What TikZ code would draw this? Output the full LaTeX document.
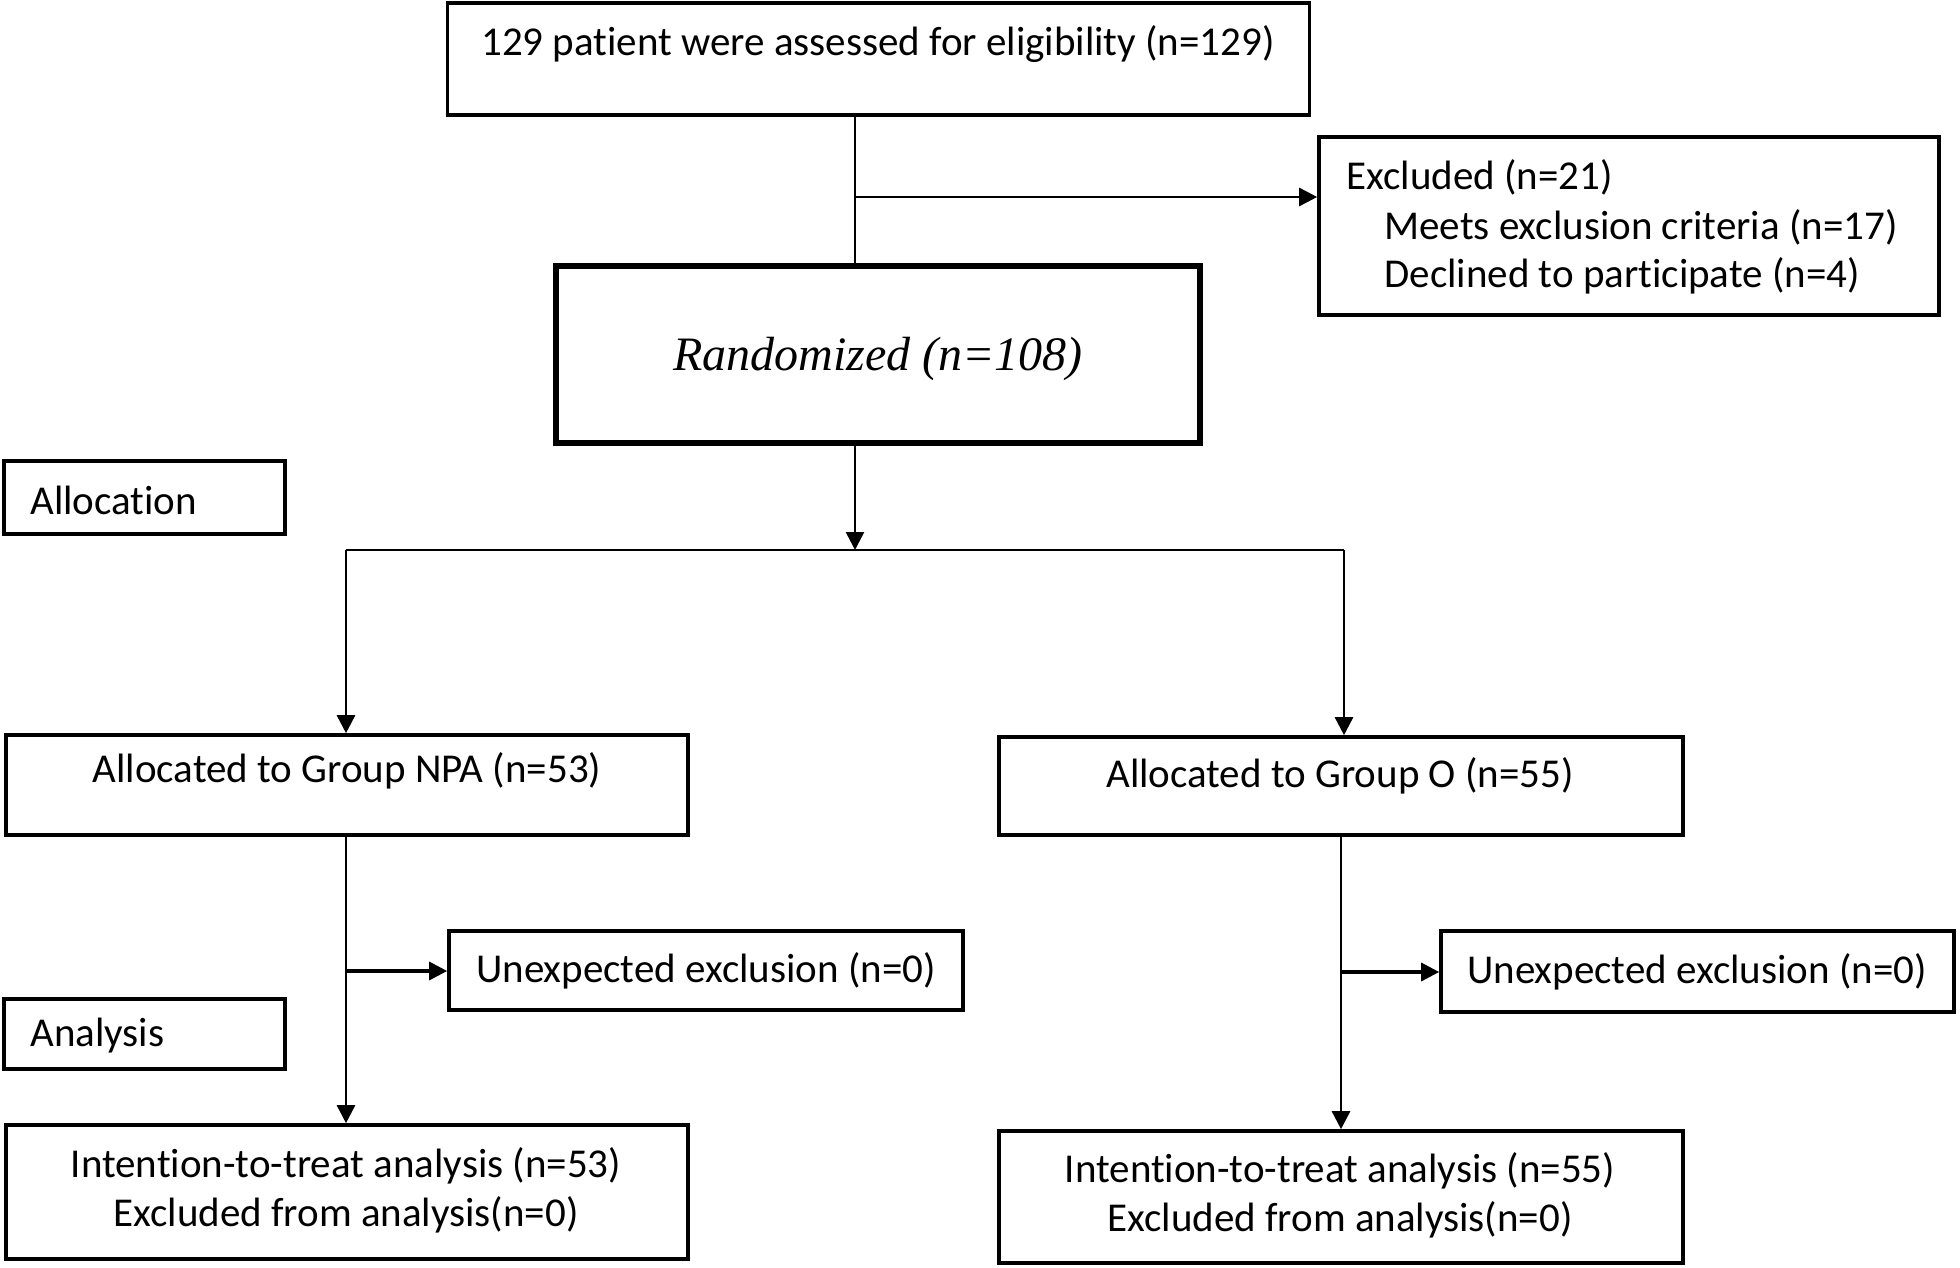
\documentclass[tikz,border=0pt]{standalone}
\usepackage{fontspec}
\setmainfont{Carlito}[Ligatures=NoCommon]
\newfontfamily\randfont{Liberation Serif}
\usetikzlibrary{arrows.meta}
\tikzset{
  box/.style={draw=black, line width=1.8pt, rectangle, inner sep=0pt},
  thickbox/.style={box, line width=2.8pt},
  txt/.style={inner sep=0pt, font=\fontsize{20.5}{22}\selectfont},
  conn/.style={line width=1.3pt, draw=black},
  arr/.style={conn, -{Triangle[length=9pt,width=9pt]}}
}
\begin{document}
\begin{tikzpicture}[x=0.5pt,y=-0.5pt]
\useasboundingbox (0,0) rectangle (1960,1268);
% boxes
\node[box, minimum width=431pt, minimum height=56pt] (top) at (878.5,59) {};
\node[txt] (toptxt) at (878,44) {129 patient were assessed for eligibility (n=129)};
\node[box, minimum width=310pt, minimum height=89pt] (excl) at (1629,226) {};
\node[txt, anchor=west] (ex1) at (1346,177) {Excluded (n=21)};
\node[txt, anchor=west] (ex2) at (1384,227) {Meets exclusion criteria (n=17)};
\node[txt, anchor=west] (ex3) at (1384,276) {Declined to participate (n=4)};
\node[thickbox, minimum width=322pt, minimum height=88.5pt] (rand) at (878,354.5) {};
\node[inner sep=0pt, font=\randfont\itshape\fontsize{24}{26}\selectfont] (randtxt) at (878,359) {Randomized (n=108)};
\node[box, minimum width=140.5pt, minimum height=36.5pt] (alloc) at (144.5,497.5) {};
\node[txt, anchor=west] (alloctxt) at (30,500) {Allocation};
\node[box, minimum width=341pt, minimum height=50pt] (npa) at (347,785) {};
\node[txt] (npatxt) at (347,771) {Allocated to Group NPA (n=53)};
\node[box, minimum width=342pt, minimum height=49pt] (grpo) at (1341,786) {};
\node[txt] (grpotxt) at (1340,776) {Allocated to Group O (n=55)};
\node[box, minimum width=257pt, minimum height=39.5pt] (une1) at (706,970.5) {};
\node[txt] (une1txt) at (706,971) {Unexpected exclusion (n=0)};
\node[box, minimum width=256.5pt, minimum height=40.5pt] (une2) at (1697.5,971.5) {};
\node[txt] (une2txt) at (1697,972) {Unexpected exclusion (n=0)};
\node[box, minimum width=140.5pt, minimum height=35pt] (anal) at (144.5,1034) {};
\node[txt, anchor=west] (analtxt) at (30,1036) {Analysis};
\node[box, minimum width=341pt, minimum height=67pt] (itt1) at (347,1192) {};
\node[txt, align=center] (itt1txt) at (346,1190.5) {Intention-to-treat analysis (n=53)\\[2.5pt]Excluded from analysis(n=0)};
\node[box, minimum width=342pt, minimum height=66pt] (itt2) at (1341,1197) {};
\node[txt, align=center] (itt2txt) at (1340,1195.5) {Intention-to-treat analysis (n=55)\\[2.5pt]Excluded from analysis(n=0)};
% coordinates
\coordinate (j1) at (855,197);
\coordinate (hmid) at (855,550);
\coordinate (hl) at (346,550);
\coordinate (hr) at (1344,550);
\coordinate (j2) at (346,971);
\coordinate (j3) at (1341,972);
% connectors
\draw[conn] (top.south -| j1) -- (rand.north -| j1);
\draw[arr] (j1) -- (excl.west |- j1);
\draw[arr] (rand.south -| hmid) -- (hmid);
\draw[conn] (hl) -- (hr);
\draw[arr] (hl) -- (npa.north -| hl);
\draw[arr] (hr) -- (grpo.north -| hr);
\draw[arr] (npa.south -| hl) -- (itt1.north -| hl);
\draw[arr, line width=1.6pt] (j2) -- (une1.west |- j2);
\draw[arr] (grpo.south -| j3) -- (itt2.north -| j3);
\draw[arr, line width=1.6pt] (j3) -- (une2.west |- j3);
\end{tikzpicture}
\end{document}
